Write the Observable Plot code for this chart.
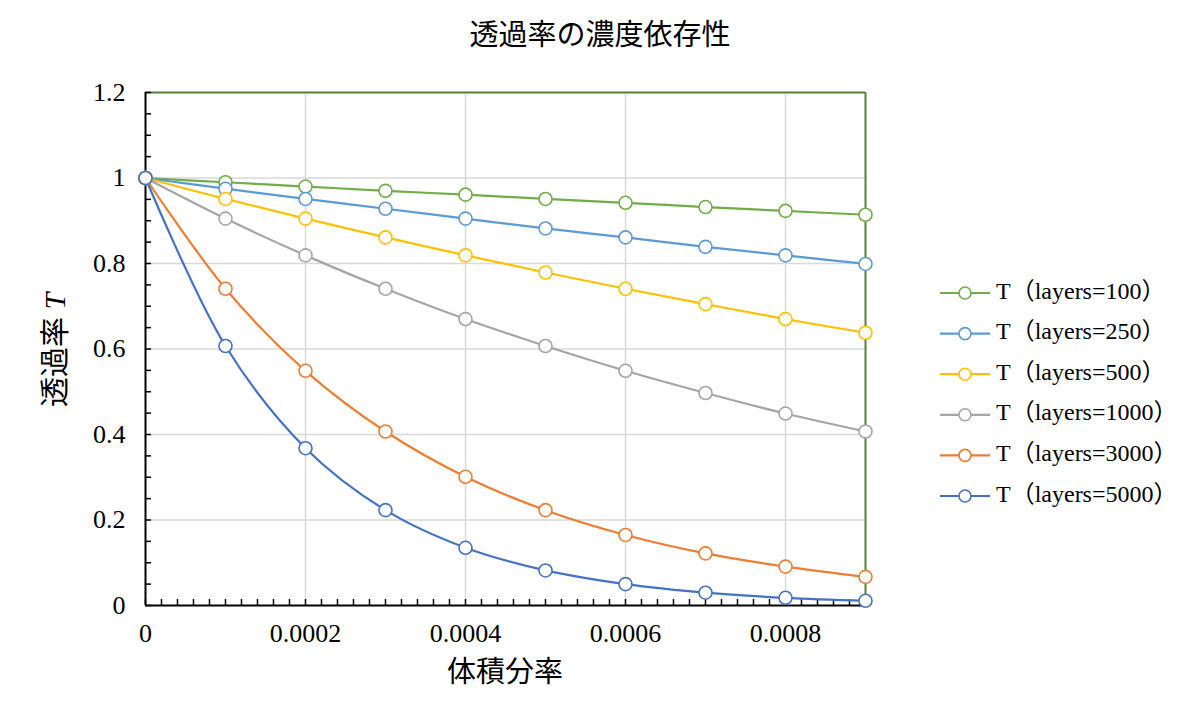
<!DOCTYPE html>
<html>
<head>
<meta charset="utf-8">
<script src="https://cdn.jsdelivr.net/npm/d3@7"></script>
<script src="https://cdn.jsdelivr.net/npm/@observablehq/plot@0.6"></script>
<style>
  body { margin: 0; background: #fff; }
  svg { display: block; }
</style>
</head>
<body>
<div id="chart"></div>
<script>
// ---- data ----
const title = "透過率の濃度依存性";
const xLabel = "体積分率";
const yLabelMain = "透過率 ";
const yLabelSym = "T";
const fractions = [0, 0.0001, 0.0002, 0.0003, 0.0004, 0.0005, 0.0006, 0.0007, 0.0008, 0.0009];
const layers = [100, 250, 500, 1000, 3000, 5000];
const seriesNames = layers.map(l => `T（layers=${l}）`);
const colors = ["#70AD47", "#5B9BD5", "#FFC000", "#A5A5A5", "#ED7D31", "#4472C4"];
const T100  = [1, 0.990, 0.980, 0.970, 0.961, 0.951, 0.942, 0.932, 0.923, 0.914];
const T250  = [1, 0.975, 0.951, 0.928, 0.905, 0.882, 0.861, 0.839, 0.819, 0.799];
const T500  = [1, 0.951, 0.905, 0.861, 0.819, 0.779, 0.741, 0.705, 0.670, 0.638];
const T1000 = [1, 0.905, 0.819, 0.741, 0.670, 0.607, 0.549, 0.497, 0.449, 0.407];
const T3000 = [1, 0.741, 0.549, 0.407, 0.301, 0.223, 0.165, 0.122, 0.091, 0.067];
const T5000 = [1, 0.607, 0.368, 0.223, 0.135, 0.082, 0.050, 0.030, 0.018, 0.011];
const xTickValues = [0, 0.0002, 0.0004, 0.0006, 0.0008];
const xTickLabels = ["0", "0.0002", "0.0004", "0.0006", "0.0008"];
const yTickValues = [0, 0.2, 0.4, 0.6, 0.8, 1.0, 1.2];
const yTickLabels = ["0", "0.2", "0.4", "0.6", "0.8", "1", "1.2"];
const xMinorTicks = d3.range(0, 46).map(i => +(i * 0.00002).toFixed(6));
const yMinorTicks = d3.range(0, 25).map(i => +(i * 0.05).toFixed(2));
const xDomain = [0, 0.0009];
const yDomain = [0, 1.2];

// ---- build table ----
const allSeries = [T100, T250, T500, T1000, T3000, T5000];
const rows = [];
allSeries.forEach((vals, si) => {
  vals.forEach((v, i) => rows.push({series: seriesNames[si], x: fractions[i], y: v}));
});

const serif = "'Liberation Serif', 'Times New Roman', 'Noto Sans CJK JP', serif";
const green = "#548235";
const grid = "#d9d9d9";

const chart = Plot.plot({
  width: 1200,
  height: 728,
  marginLeft: 145,
  marginRight: 335,
  marginTop: 92,
  marginBottom: 123,
  style: {fontFamily: serif, background: "#fff", overflow: "visible"},
  x: {domain: xDomain, axis: null},
  y: {domain: yDomain, axis: null},
  color: {domain: seriesNames, range: colors},
  marks: [
    // grid
    Plot.ruleY(yTickValues.filter(v => v > 0 && v < 1.2), {stroke: grid, strokeWidth: 1.5}),
    Plot.ruleX(xTickValues.filter(v => v > 0), {stroke: grid, strokeWidth: 1.5}),
    // green frame (top & right)
    Plot.ruleY([yDomain[1]], {stroke: green, strokeWidth: 2}),
    Plot.ruleX([xDomain[1]], {stroke: green, strokeWidth: 2}),
    // black axes
    Plot.ruleX([0], {stroke: "#000", strokeWidth: 2}),
    Plot.ruleY([0], {stroke: "#000", strokeWidth: 2}),
    // minor ticks (inward)
    Plot.axisY({ticks: yMinorTicks, tickSize: 6, dx: 6, tickFormat: () => "", stroke: "#000", strokeWidth: 1.5, label: null}),
    Plot.axisX({ticks: xMinorTicks, tickSize: 6, dy: -6, tickFormat: () => "", stroke: "#000", strokeWidth: 1.5, label: null}),
    // tick labels
    Plot.axisY({ticks: yTickValues, tickSize: 0, tickPadding: 20, tickFormat: (d, i) => yTickLabels[i], fontSize: 26, fill: "#000", label: null}),
    Plot.axisX({ticks: xTickValues, tickSize: 0, tickPadding: 18, tickFormat: (d, i) => xTickLabels[i], fontSize: 26, fill: "#000", label: null}),
    // series
    Plot.line(rows, {x: "x", y: "y", z: "series", stroke: "series", strokeWidth: 2.2, curve: "catmull-rom"}),
    Plot.dot(rows, {x: "x", y: "y", stroke: "series", fill: "#fff", r: 6.5, strokeWidth: 1.6})
  ]
});

const svg = d3.select(chart);

// title
svg.append("text")
  .attr("x", 600).attr("y", 38)
  .attr("text-anchor", "middle").attr("dominant-baseline", "middle")
  .style("font-family", serif).style("font-size", "29px").attr("fill", "#000")
  .text(title);

// x label
svg.append("text")
  .attr("x", 505).attr("y", 675)
  .attr("text-anchor", "middle").attr("dominant-baseline", "middle")
  .style("font-family", serif).style("font-size", "29px").attr("fill", "#000")
  .text(xLabel);

// y label
const yl = svg.append("text")
  .attr("transform", "translate(58,350) rotate(-90)")
  .attr("text-anchor", "middle").attr("dominant-baseline", "middle")
  .style("font-family", serif).style("font-size", "30px").attr("fill", "#000");
yl.append("tspan").text(yLabelMain);
yl.append("tspan").style("font-style", "italic").text(yLabelSym);

// legend
const lg = svg.append("g").attr("text-anchor", "start");
seriesNames.forEach((name, i) => {
  const y = 293 + i * 40.6;
  lg.append("line").attr("x1", 940).attr("x2", 990).attr("y1", y).attr("y2", y)
    .attr("stroke", colors[i]).attr("stroke-width", 2.2);
  lg.append("circle").attr("cx", 965).attr("cy", y).attr("r", 6)
    .attr("fill", "#fff").attr("stroke", colors[i]).attr("stroke-width", 1.6);
  lg.append("text").attr("x", 996).attr("y", y)
    .attr("text-anchor", "start")
    .attr("dominant-baseline", "middle")
    .style("font-family", serif).style("font-size", "24px").attr("fill", "#000")
    .text(name);
});

document.getElementById("chart").appendChild(chart);
</script>
</body>
</html>
